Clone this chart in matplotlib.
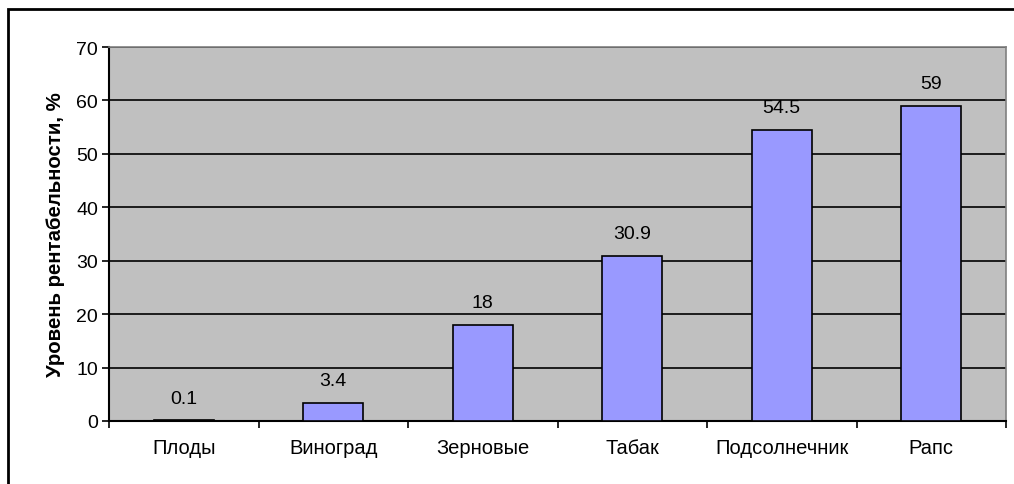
import numpy as np
import matplotlib.pyplot as plt
from matplotlib.patches import Rectangle

plt.rcParams['font.family'] = ['Liberation Sans', 'DejaVu Sans']

# Data
crops = ["Плоды", "Виноград", "Зерновые", "Табак", "Подсолнечник", "Рапс"]
profit = [0.1, 3.4, 18, 30.9, 54.5, 59]
value_labels = ["0.1", "3.4", "18", "30.9", "54.5", "59"]
yticks = [0, 10, 20, 30, 40, 50, 60, 70]

fig = plt.figure(figsize=(10.14, 4.85), dpi=100)
ax = fig.add_axes([109 / 1014, 1 - 422 / 485, 897 / 1014, 374 / 485])

# outer chart border (cut off at right and bottom like the reference)
fig.patches.append(Rectangle((8 / 1014, -0.1), 1.2, 1 - 10 / 485 + 0.1,
                             transform=fig.transFigure, fill=False,
                             edgecolor="black", linewidth=2, zorder=0))

ax.set_facecolor("#C0C0C0")
x = np.arange(len(crops))
ax.bar(x, profit, width=0.4, color="#9999FF", edgecolor="black", linewidth=1.2, zorder=3)

for xi, v, lab in zip(x, profit, value_labels):
    ax.annotate(lab, (xi, v), xytext=(0, 10), textcoords="offset points",
                ha="center", va="bottom", fontsize=14)

ax.set_xlim(-0.5, len(crops) - 0.5)
ax.set_ylim(0, 70)
ax.set_yticks(yticks)
ax.yaxis.grid(True, color="black", linewidth=1.2, zorder=1)
ax.set_axisbelow(True)

ax.set_xticks(x)
ax.set_xticklabels(crops, fontsize=14.5)
ax.set_xticks(np.arange(len(crops) + 1) - 0.5, minor=True)
ax.tick_params(axis="x", which="major", length=0, pad=12)
ax.tick_params(axis="x", which="minor", length=5, width=1.2, direction="out")
ax.tick_params(axis="y", length=5, width=1.2, labelsize=14, pad=3)

ax.set_ylabel("Уровень рентабельности, %", fontsize=14.7, fontweight="bold", labelpad=8)

for s in ["top", "right"]:
    ax.spines[s].set_color("#808080")
    ax.spines[s].set_linewidth(1.2)
for s in ["left", "bottom"]:
    ax.spines[s].set_color("black")
    ax.spines[s].set_linewidth(1.5)

fig.savefig("out.png", dpi=100)
